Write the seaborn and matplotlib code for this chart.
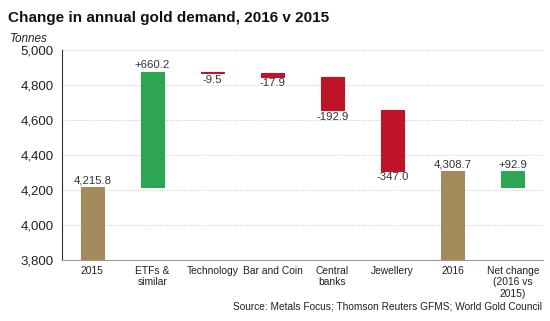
import matplotlib
matplotlib.use("Agg")
import matplotlib.pyplot as plt
import seaborn as sns
import pandas as pd
import numpy as np

categories = ["2015", "ETFs &\nsimilar", "Technology", "Bar and Coin", "Central\nbanks",
              "Jewellery", "2016", "Net change\n(2016 vs\n2015)"]
changes = [4215.8, 660.2, -9.5, -17.9, -192.9, -347.0, 4308.7, 92.9]
kinds = ["total", "delta", "delta", "delta", "delta", "delta", "total", "net"]
labels = ["4,215.8", "+660.2", "-9.5", "-17.9", "-192.9", "-347.0", "4,308.7", "+92.9"]
y_floor = 3800

# waterfall geometry derived from the values
bottoms, tops = [], []
running = 0.0
for v, k in zip(changes, kinds):
    if k == "total":
        bottoms.append(y_floor); tops.append(v); running = v
    elif k == "delta":
        lo, hi = sorted([running, running + v])
        bottoms.append(lo); tops.append(hi); running += v
    else:
        base = changes[0]
        bottoms.append(base); tops.append(base + v)
heights = [t - b for t, b in zip(tops, bottoms)]

df = pd.DataFrame({"cat": categories, "height": heights})

sns.set_style("white")
plt.rcParams["font.family"] = ["Liberation Sans", "DejaVu Sans"]

fig = plt.figure(figsize=(5.5, 3.21), dpi=100)
ax = fig.add_axes([0.113, 0.19, 0.874, 0.654])

col_total = "#A38C5C"
col_up = "#2EA553"
col_down = "#BE1428"

sns.barplot(data=df, x="cat", y="height", order=categories, bottom=bottoms,
            width=0.38, ax=ax, errorbar=None, linewidth=0.8, color=col_total, saturation=1)

for p, v, k in zip(ax.patches, changes, kinds):
    c = col_total if k == "total" else (col_up if v >= 0 else col_down)
    p.set_facecolor(c)
    p.set_edgecolor(c)

ax.set_ylim(3800, 5000)
ax.set_xlim(-0.5, len(categories) - 0.5)
ax.set_yticks(np.arange(3800, 5001, 200))
ax.set_yticklabels([f"{int(t):,}" for t in np.arange(3800, 5001, 200)], fontsize=9.5, color="#222222")
ax.yaxis.grid(True, linestyle=(0, (1, 1.5)), color="#C8C8C8", linewidth=0.7)
ax.set_axisbelow(True)

ax.set_xticks(range(len(categories)))
ax.set_xticklabels(categories, fontsize=7.4, color="#222222", linespacing=1.2)
ax.tick_params(axis="x", length=0, pad=4)
ax.set_xticks(np.arange(0.5, len(categories) - 0.5, 1), minor=True)
ax.tick_params(axis="x", which="minor", length=3, color="#888888", direction="out")
ax.tick_params(axis="y", length=4, color="#333333", direction="out", pad=2)

ax.set_xlabel("")
ax.set_ylabel("")
for s in ["top", "right"]:
    ax.spines[s].set_visible(False)
ax.spines["left"].set_color("#333333")
ax.spines["left"].set_linewidth(0.8)
ax.spines["bottom"].set_color("#999999")
ax.spines["bottom"].set_linewidth(0.8)

for i, (lab, b, t, v, k) in enumerate(zip(labels, bottoms, tops, changes, kinds)):
    if k == "total" or v >= 0:
        ax.text(i, t + 8, lab, ha="center", va="bottom", fontsize=8.2, color="#333333")
    else:
        ax.text(i, b - 8, lab, ha="center", va="top", fontsize=8.2, color="#333333")

fig.text(0.015, 0.945, "Change in annual gold demand, 2016 v 2015", fontsize=11,
         fontweight="bold", ha="left", va="center", color="#111111")
fig.text(0.018, 0.88, "Tonnes", fontsize=8.5, style="italic", ha="left", va="center", color="#222222")
fig.text(0.985, 0.045, "Source: Metals Focus; Thomson Reuters GFMS; World Gold Council",
         fontsize=7.3, ha="right", va="center", color="#222222")

fig.savefig("out.png", dpi=100)
